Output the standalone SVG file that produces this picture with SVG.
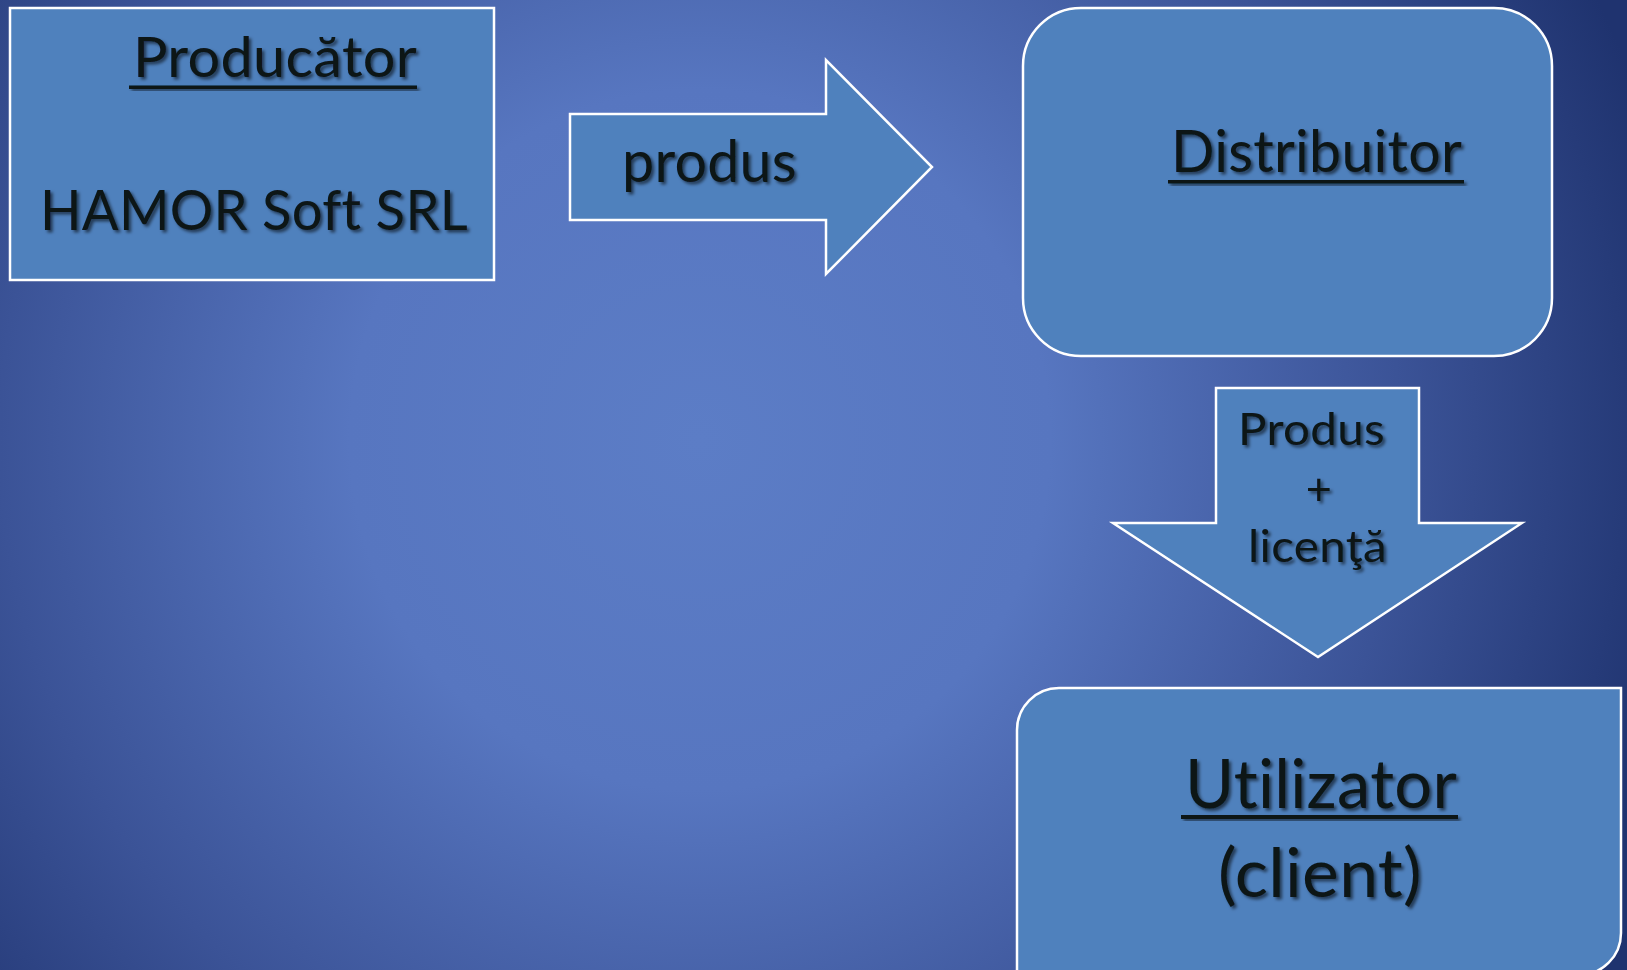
<svg xmlns="http://www.w3.org/2000/svg" width="1627" height="970" viewBox="0 0 1627 970">
<defs>
<radialGradient id="bg" gradientUnits="userSpaceOnUse" cx="700" cy="440" r="1000">
<stop offset="0" stop-color="#5c7dc6"/>
<stop offset="0.35" stop-color="#5776c0"/>
<stop offset="0.7" stop-color="#3b5397"/>
<stop offset="1" stop-color="#1f336f"/>
</radialGradient>
<filter id="ts" x="-10%" y="-50%" width="120%" height="200%">
<feDropShadow dx="2.5" dy="2.5" stdDeviation="1.5" flood-color="#000" flood-opacity="0.55"/>
</filter>
</defs>
<style>
.shape{fill:#4f81bd;stroke:#ffffff;stroke-width:2.5;}
.t{font-family:Lato,"Open Sans","Liberation Sans",sans-serif;fill:#0a1418;filter:url(#ts);font-variant-ligatures:none;font-feature-settings:"liga" 0,"clig" 0,"dlig" 0;letter-spacing:0.3px;}
.ul{fill:#0a1418;filter:url(#ts);}
</style>
<rect x="0" y="0" width="1627" height="970" fill="url(#bg)"/>
<g id="producator">
<rect class="shape" x="10" y="8" width="484" height="272"/>
<text class="t" x="133" y="77" font-size="57" textLength="284" lengthAdjust="spacingAndGlyphs">Producător</text>
<rect class="ul" x="129" y="85.5" width="288" height="3.5"/>
<text class="t" x="40" y="230" font-size="56" textLength="428" lengthAdjust="spacingAndGlyphs">HAMOR Soft SRL</text>
</g>
<g id="distribuitor">
<rect class="shape" x="1023" y="8" width="529" height="348" rx="58" ry="58"/>
<text class="t" x="1171" y="172" font-size="59" textLength="291" lengthAdjust="spacingAndGlyphs">Distribuitor</text>
<rect class="ul" x="1168" y="180" width="296" height="3.5"/>
</g>
<g id="utilizator">
<path class="shape" d="M1017,730 A42,42 0 0 1 1059,688 H1621 V933 A42,42 0 0 1 1579,975 H1017 Z"/>
<text class="t" x="1185" y="808" font-size="67" textLength="272" lengthAdjust="spacingAndGlyphs">Utilizator</text>
<rect class="ul" x="1181" y="815" width="277" height="4"/>
<text class="t" x="1218" y="897" font-size="67" textLength="204" lengthAdjust="spacingAndGlyphs">(client)</text>
</g>
<g id="connectors">
<g id="arrow-produs">
<polygon class="shape" points="570,114 826,114 826,60 932,167 826,274 826,220 570,220"/>
<text class="t" x="622" y="182" font-size="58" textLength="175" lengthAdjust="spacingAndGlyphs">produs</text>
</g>
<g id="arrow-licenta">
<polygon class="shape" points="1216,388 1419,388 1419,523 1522,523 1318,657 1113,523 1216,523"/>
<text class="t" x="1238" y="445" font-size="45" textLength="147" lengthAdjust="spacingAndGlyphs">Produs</text>
<text class="t" x="1319" y="505" font-size="45" text-anchor="middle">+</text>
<text class="t" x="1248" y="562" font-size="45" textLength="139" lengthAdjust="spacingAndGlyphs">licenţă</text>
</g>
</g>
</svg>
